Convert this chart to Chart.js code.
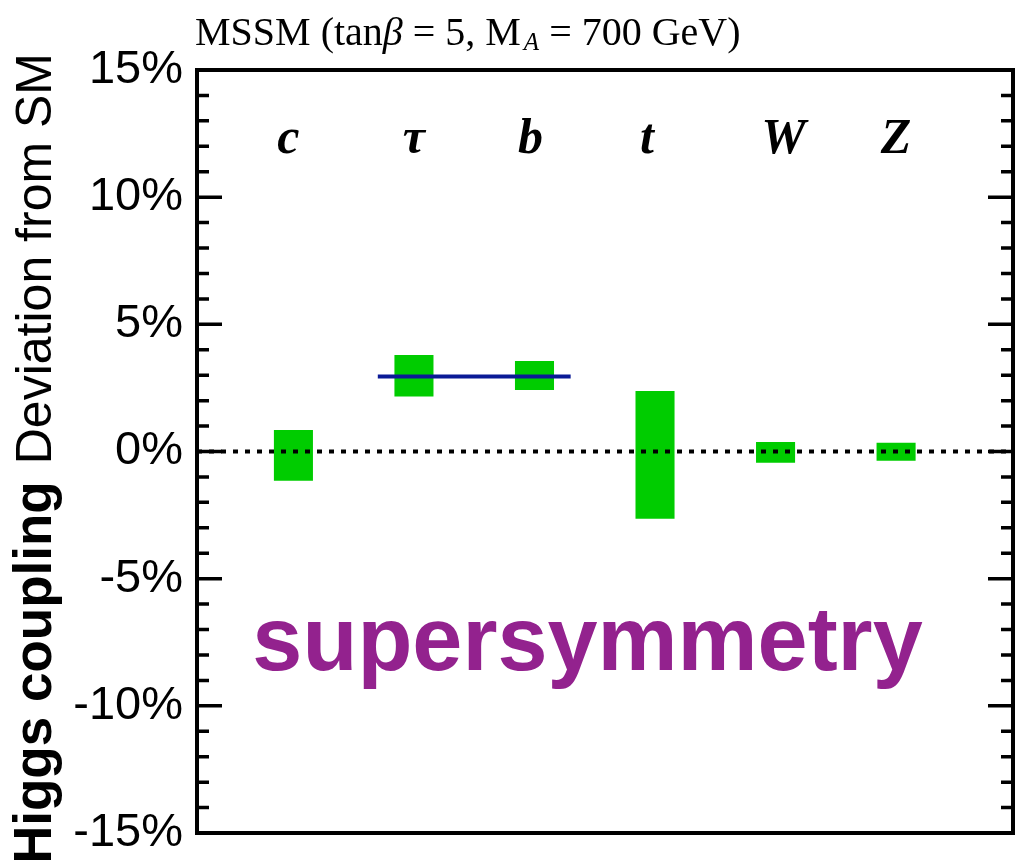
<!DOCTYPE html>
<html>
<head>
<meta charset="utf-8">
<script src="https://cdn.jsdelivr.net/npm/chart.js@4.4.1/dist/chart.umd.min.js"></script>
<style>
  html, body { margin: 0; padding: 0; background: #ffffff; }
  canvas { display: block; }
</style>
</head>
<body>
<canvas id="chart" width="1018" height="860"></canvas>
<script>
// ---- data ----
const categories = ['c', 'τ', 'b', 't', 'W', 'Z'];
const categoryPos = [1, 2, 3, 4, 5, 6];
const lowValues  = [-1.15, 2.16, 2.42, -2.64, -0.44, -0.36];
const highValues = [ 0.85, 3.79, 3.56,  2.38,  0.37,  0.34];
const commonShiftX = [1.7, 3.3];     // x-extent of common tau/b shift line
const commonShiftY = 2.95;          // common shift value (%)
const yTickValues = [-15, -10, -5, 0, 5, 10, 15];
const xRange = [0.2, 6.97];
const yRange = [-15, 15];

const barData = categories.map((c, i) => ({ x: categoryPos[i], y: [lowValues[i], highValues[i]] }));
const shiftLine = commonShiftX.map(x => ({ x: x, y: commonShiftY }));
const zeroLine = xRange.map(x => ({ x: x, y: 0 }));

const labelNudge = [-5, 0, -4, -8, 8, 0];   // glyph placement tweaks (px)

const decorPlugin = {
  id: 'decor',
  afterDraw(chart) {
    const ctx = chart.ctx;
    const { left, right, top, bottom } = chart.chartArea;
    const xs = chart.scales.x, ys = chart.scales.y;
    ctx.save();
    ctx.strokeStyle = '#000';
    ctx.fillStyle = '#000';
    // tick marks (inside, both sides)
    ctx.lineWidth = 3.5;
    for (let v = yRange[0]; v <= yRange[1]; v++) {
      const py = ys.getPixelForValue(v);
      const len = (v % 5 === 0) ? 25 : 12;
      ctx.beginPath();
      ctx.moveTo(left, py); ctx.lineTo(left + len, py);
      ctx.moveTo(right, py); ctx.lineTo(right - len, py);
      ctx.stroke();
    }
    // frame
    ctx.lineWidth = 4;
    ctx.strokeRect(left, top, right - left, bottom - top);

    // category labels
    ctx.font = 'bold italic 50px "Liberation Serif"';
    ctx.textAlign = 'center';
    ctx.textBaseline = 'alphabetic';
    const ly = ys.getPixelForValue(11.75);
    categories.forEach((c, i) => {
      ctx.fillText(c, xs.getPixelForValue(categoryPos[i]) + labelNudge[i], ly);
    });

    // supersymmetry
    ctx.font = 'bold 90px "Liberation Sans"';
    ctx.fillStyle = '#93228e';
    ctx.fillText('supersymmetry', xs.getPixelForValue(3.44), ys.getPixelForValue(-8.59));

    // title
    ctx.fillStyle = '#000';
    ctx.textAlign = 'left';
    let tx = left - 2;
    const tb = 45;
    const parts = [
      ['MSSM (tan', '40px "Liberation Serif"', 0],
      ['β', 'italic 40px "Liberation Serif"', 0],
      [' = 5, M', '40px "Liberation Serif"', 0],
      ['A', 'italic 25px "Liberation Serif"', 5],
      [' = 700 GeV)', '40px "Liberation Serif"', 0]
    ];
    parts.forEach(p => {
      ctx.font = p[1];
      if (p[0] === 'A') tx += 3;
      ctx.fillText(p[0], tx, tb + p[2]);
      tx += ctx.measureText(p[0]).width;
    });

    // y-axis title (rotated, mixed weight)
    ctx.save();
    ctx.translate(51, 864);
    ctx.rotate(-Math.PI / 2);
    ctx.textAlign = 'left';
    ctx.font = 'bold 53px "Liberation Sans"';
    const boldTxt = 'Higgs coupling';
    ctx.fillText(boldTxt, 0, 0);
    let off = ctx.measureText(boldTxt).width + 17;
    ctx.font = '50px "Liberation Sans"';
    ctx.fillText('Deviation from SM', off, 0);
    ctx.restore();

    ctx.restore();
  }
};

new Chart(document.getElementById('chart'), {
  data: {
    datasets: [
      {
        type: 'bar',
        data: barData,
        backgroundColor: '#00cc00',
        borderWidth: 0,
        categoryPercentage: 1.0,
        barPercentage: 0.405,
        order: 3
      },
      {
        type: 'line',
        data: shiftLine,
        borderColor: '#0b1a96',
        borderWidth: 4,
        pointRadius: 0,
        fill: false,
        order: 2
      },
      {
        type: 'line',
        data: zeroLine,
        borderColor: '#000',
        borderWidth: 4,
        borderDash: [5, 7],
        pointRadius: 0,
        fill: false,
        order: 1
      }
    ]
  },
  options: {
    responsive: false,
    animation: false,
    devicePixelRatio: 1,
    layout: { padding: { top: 70, bottom: 27, left: 0, right: 5 } },
    plugins: { legend: { display: false }, tooltip: { enabled: false }, title: { display: false } },
    scales: {
      x: { type: 'linear', min: xRange[0], max: xRange[1], display: false, offset: false, grid: { offset: false } },
      y: {
        type: 'linear', min: yRange[0], max: yRange[1],
        afterBuildTicks: s => { s.ticks = yTickValues.map(v => ({ value: v })); },
        afterFit: s => { s.width = 197; },
        ticks: {
          autoSkip: false,
          padding: 14,
          color: '#000',
          font: { family: 'Liberation Sans', size: 47, lineHeight: 0.5 },
          callback: v => v + '%'
        },
        grid: { display: false, drawTicks: false },
        border: { display: false }
      }
    }
  },
  plugins: [decorPlugin]
});
</script>
</body>
</html>
